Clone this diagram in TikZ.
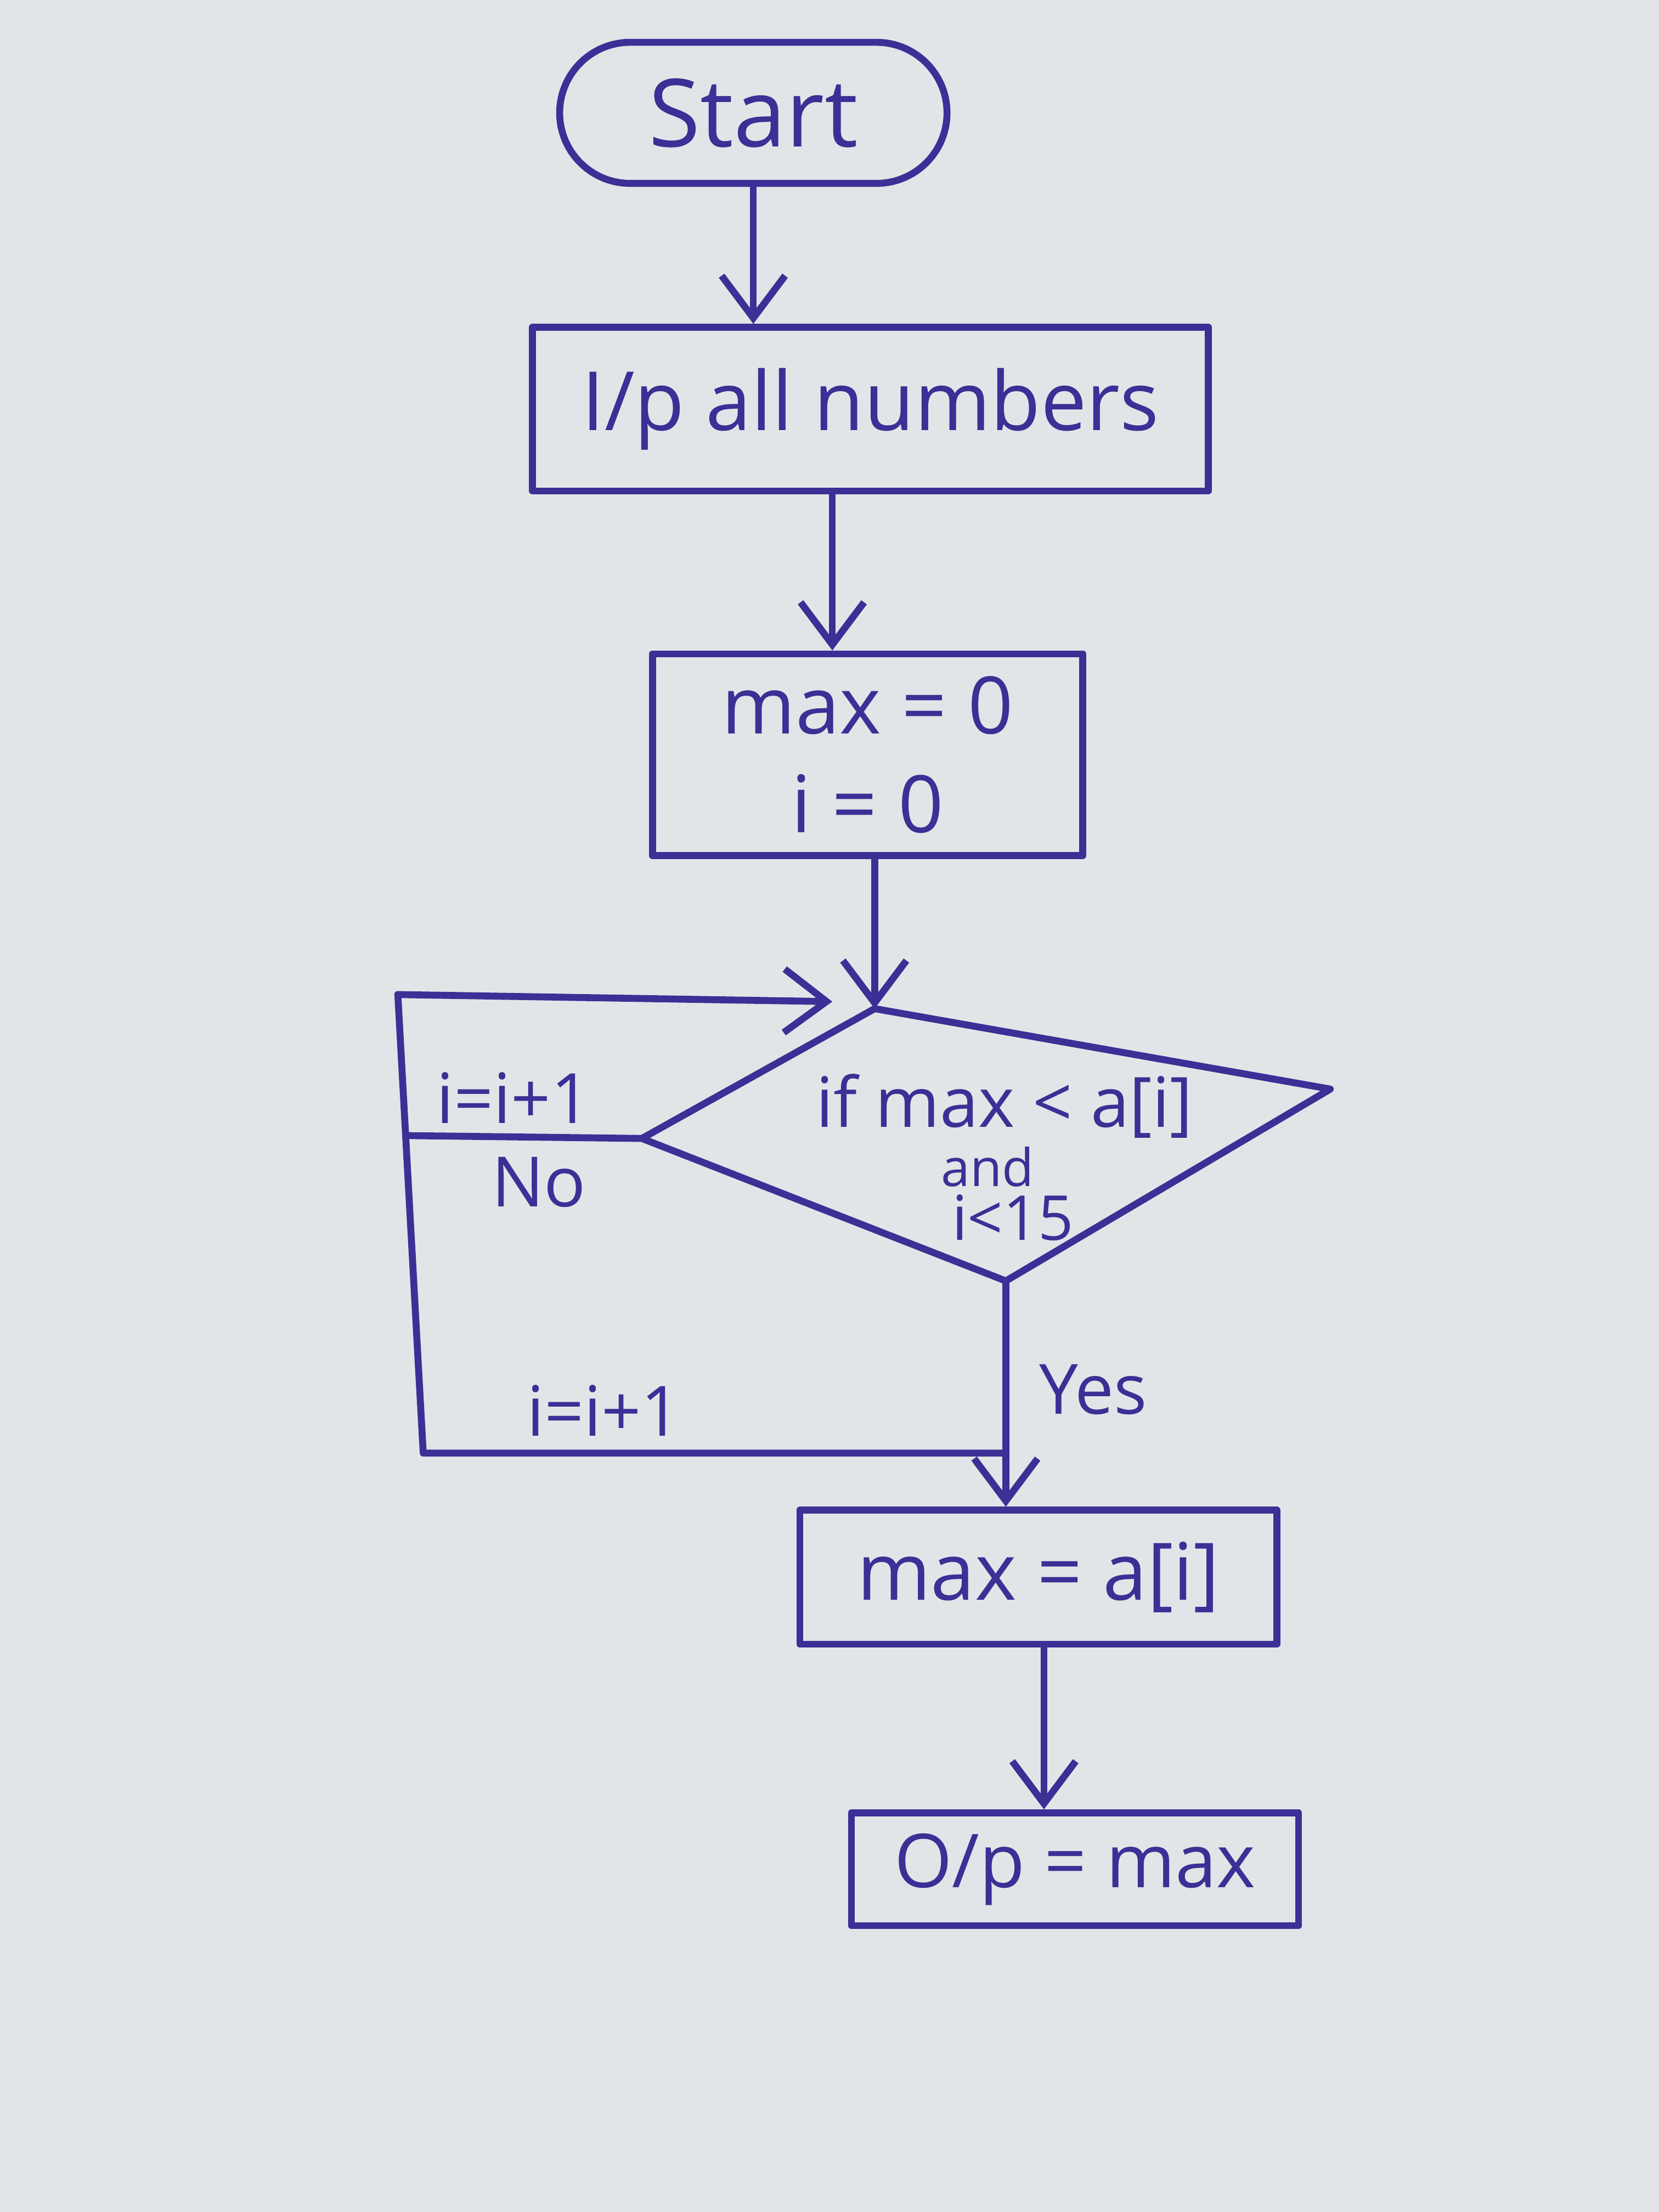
\documentclass[tikz,border=0pt]{standalone}
\usepackage{fontspec}
\setmainfont{Open Sans}
\usetikzlibrary{arrows.meta,shapes.misc}
\definecolor{ink}{RGB}{58,48,150}
\definecolor{paper}{RGB}{226,229,231}
\tikzset{
  ink/.style={draw=ink,line width=1.4pt,line join=round,line cap=round},
  flowbox/.style={ink,rectangle,inner sep=2pt,text=ink},
  arr/.style={ink,-{Straight Barb[length=3mm,width=4.5mm,line width=1.4pt]}},
  lbl/.style={text=ink,inner sep=1pt},
  condtext/.style={text=ink,inner sep=0pt}
}
\begin{document}
\begin{tikzpicture}
\fill[paper] (0,0) rectangle (11.76,-15.68);
\useasboundingbox (0,0) rectangle (11.76,-15.68);

% nodes
\node[ink,rounded rectangle,minimum width=2.98cm,minimum height=1.0cm,text=ink,font=\fontsize{19}{23}\selectfont] (start) at (5.34,-0.80) {Start};
\node[flowbox,minimum width=4.79cm,minimum height=1.16cm,font=\fontsize{16.5}{20}\selectfont] (inp) at (6.17,-2.90) {I/p all numbers};
\node[flowbox,minimum width=3.05cm,minimum height=1.43cm,align=center,font=\fontsize{16}{20}\selectfont] (init) at (6.15,-5.35) {max = 0\\i = 0};

% decision (irregular diamond)
\coordinate (dleft) at (4.55,-8.07);
\coordinate (dtop) at (6.20,-7.15);
\coordinate (dright) at (9.43,-7.72);
\coordinate (dbot) at (7.13,-9.08);
\draw[ink] (dleft) -- (dtop) -- (dright) -- (dbot) -- cycle;
\node[condtext,font=\fontsize{14}{17}\selectfont] (cond1) at (7.12,-7.84) {if max < a[i]};
\node[condtext,font=\fontsize{10.5}{12}\selectfont] (cond2) at (7.00,-8.27) {and};
\node[condtext,font=\fontsize{12.5}{15}\selectfont] (cond3) at (7.18,-8.63) {i<15};

\node[flowbox,minimum width=3.38cm,minimum height=0.95cm,font=\fontsize{16}{20}\selectfont] (maxa) at (7.36,-11.18) {max = a[i]};
\node[flowbox,minimum width=3.17cm,minimum height=0.80cm,font=\fontsize{15}{18}\selectfont] (out) at (7.62,-13.25) {O/p = max};

% loop corners
\coordinate (lt) at (2.82,-7.05);
\coordinate (lm) at (2.90,-8.05);
\coordinate (lb) at (3.00,-10.30);
\coordinate (ltend) at (5.90,-7.10);
\coordinate (yj) at (7.13,-10.30);

% connectors
\draw[arr] (start.south) -- (start.south |- inp.north);
\draw[arr] (inp.south -| 5.90,0) -- (5.90,0 |- init.north);
\draw[arr] (init.south -| dtop) -- (dtop);
\draw[arr] (dbot) -- (dbot |- maxa.north);
\draw[arr] (maxa.south -| 7.40,0) -- (7.40,0 |- out.north);
\draw[ink] (dleft) -- (lm);
\draw[ink] (lt) -- (lb) -- (yj);
\draw[arr] (lt) -- (ltend);

% labels
\node[lbl,font=\fontsize{14}{17}\selectfont] (l1) at (3.64,-7.78) {i=i+1};
\node[lbl,font=\fontsize{14}{17}\selectfont] (l2) at (3.82,-8.38) {No};
\node[lbl,font=\fontsize{14}{17}\selectfont] (l3) at (4.28,-10.00) {i=i+1};
\node[lbl,font=\fontsize{14}{17}\selectfont] (l4) at (7.75,-9.85) {Yes};
\end{tikzpicture}
\end{document}
